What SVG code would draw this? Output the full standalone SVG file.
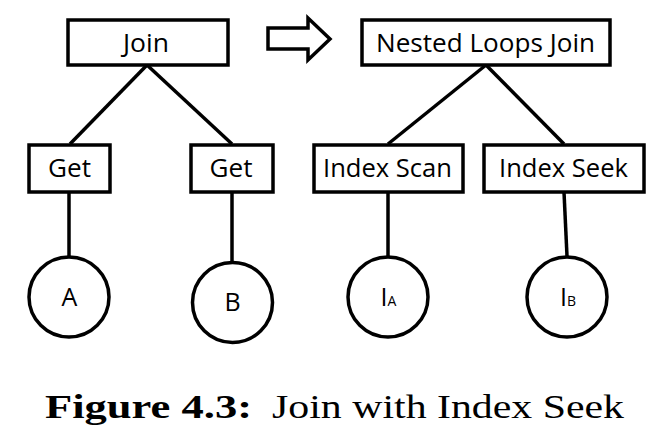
<svg xmlns="http://www.w3.org/2000/svg" width="662" height="436" viewBox="0 0 662 436">
<style>
.box{fill:#fff;stroke:#000;stroke-width:3.5}
.circ{fill:#fff;stroke:#000;stroke-width:3.5}
.edge{stroke:#000;stroke-width:3.5;fill:none}
.lbl{font-family:"Open Sans","Noto Sans",sans-serif;font-size:25px;fill:#000;text-anchor:middle}
.cap{font-family:"Liberation Serif",serif;font-size:33px;fill:#000}
</style>
<rect width="662" height="436" fill="#fff"/>
<g id="connectors">
<line class="edge" x1="147" y1="65" x2="70" y2="144"/>
<line class="edge" x1="147" y1="65" x2="232" y2="144"/>
<line class="edge" x1="69" y1="192" x2="69" y2="256"/>
<line class="edge" x1="232" y1="192" x2="232" y2="262"/>
<line class="edge" x1="486" y1="65" x2="388" y2="144"/>
<line class="edge" x1="486" y1="65" x2="564" y2="144"/>
<line class="edge" x1="388" y1="192" x2="388" y2="256"/>
<line class="edge" x1="564" y1="192" x2="567" y2="256"/>
</g>
<g id="arrow">
<polygon points="268,28 308,28 308,18 330,39 308,60 308,49 268,49" fill="#fff" stroke="#000" stroke-width="3.5" stroke-linejoin="miter"/>
</g>
<g id="join">
<rect class="box" x="68" y="20" width="160" height="45"/>
<text class="lbl" x="146" y="52" textLength="46" lengthAdjust="spacingAndGlyphs">Join</text>
</g>
<g id="get-left">
<rect class="box" x="29" y="145" width="81" height="47"/>
<text class="lbl" x="69.5" y="177" textLength="43" lengthAdjust="spacingAndGlyphs">Get</text>
</g>
<g id="get-right">
<rect class="box" x="191" y="145" width="82" height="47"/>
<text class="lbl" x="231" y="177" textLength="43" lengthAdjust="spacingAndGlyphs">Get</text>
</g>
<g id="nested-loops-join">
<rect class="box" x="362" y="20" width="248" height="45"/>
<text class="lbl" x="485.5" y="52" textLength="219" lengthAdjust="spacingAndGlyphs">Nested Loops Join</text>
</g>
<g id="index-scan">
<rect class="box" x="314" y="145" width="149" height="47"/>
<text class="lbl" x="387.5" y="177" textLength="129" lengthAdjust="spacingAndGlyphs">Index Scan</text>
</g>
<g id="index-seek">
<rect class="box" x="484" y="145" width="160" height="47"/>
<text class="lbl" x="563.5" y="177" textLength="129" lengthAdjust="spacingAndGlyphs">Index Seek</text>
</g>
<g id="A">
<circle class="circ" cx="69" cy="297" r="40"/>
<text class="lbl" x="69.5" y="306" font-size="24">A</text>
</g>
<g id="B">
<circle class="circ" cx="232.5" cy="302.5" r="40"/>
<text class="lbl" x="232.5" y="311" font-size="24">B</text>
</g>
<g id="IA">
<circle class="circ" cx="388" cy="297" r="40"/>
<text class="lbl" x="388.5" y="306" font-size="24">I<tspan font-size="14">A</tspan></text>
</g>
<g id="IB">
<circle class="circ" cx="567" cy="297" r="40"/>
<text class="lbl" x="568" y="306" font-size="24">I<tspan font-size="14">B</tspan></text>
</g>
<g id="caption">
<text class="cap" x="45" y="418"><tspan font-weight="bold" textLength="207" lengthAdjust="spacingAndGlyphs">Figure 4.3:</tspan></text>
<text class="cap" x="272" y="418" textLength="352" lengthAdjust="spacingAndGlyphs">Join with Index Seek</text>
</g>
</svg>
